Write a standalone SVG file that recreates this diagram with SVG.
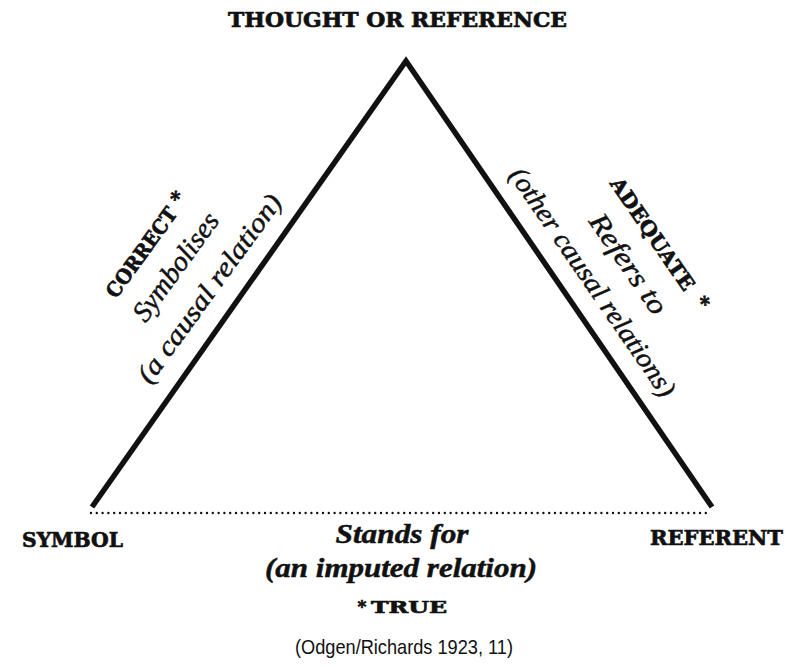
<svg xmlns="http://www.w3.org/2000/svg" width="800" height="667" viewBox="0 0 800 667">
<style>
.caps{font-family:"DejaVu Serif","Liberation Serif",serif;font-weight:bold;fill:#111;stroke:#111;stroke-width:0.7}
.it{font-family:"Liberation Serif","DejaVu Serif",serif;font-style:italic;fill:#111;stroke:#111;stroke-width:0.5}
.cap{font-family:"Liberation Sans",Arial,sans-serif;fill:#111}
.edge{fill:none;stroke:#111;stroke-width:5.5;stroke-linejoin:miter;stroke-linecap:butt}
.dots{fill:none;stroke:#111;stroke-width:2.4;stroke-dasharray:0 5.8;stroke-linecap:round}
</style>
<rect width="800" height="667" fill="#fff"/>
<g id="connectors">
<polyline class="edge" points="92,507 406,61 712,507"/>
<line class="dots" x1="91" y1="513" x2="710" y2="513"/>
</g>
<g id="thought">
<text class="caps" x="397.5" y="27" font-size="20" text-anchor="middle" textLength="339" lengthAdjust="spacingAndGlyphs">THOUGHT OR REFERENCE</text>
</g>
<g id="symbol">
<text class="caps" x="22" y="547" font-size="21" textLength="101" lengthAdjust="spacingAndGlyphs">SYMBOL</text>
</g>
<g id="referent">
<text class="caps" x="650" y="545" font-size="21" textLength="133" lengthAdjust="spacingAndGlyphs">REFERENT</text>
</g>
<g id="left-label">
<text class="caps" transform="translate(141.5,252.5) rotate(-54)" y="7" font-size="20" text-anchor="middle" textLength="106" lengthAdjust="spacingAndGlyphs">CORRECT</text>
<text class="caps" transform="translate(177,197) rotate(-54)" y="8" font-size="20" text-anchor="middle">*</text>
<text class="it" transform="translate(176.5,267.5) rotate(-54)" y="8" font-size="28" text-anchor="middle" textLength="127" lengthAdjust="spacingAndGlyphs">Symbolises</text>
<text class="it" transform="translate(210,289) rotate(-54)" y="8" font-size="27" text-anchor="middle" textLength="226" lengthAdjust="spacingAndGlyphs">(a causal relation)</text>
</g>
<g id="right-label">
<text class="caps" transform="translate(652.5,234) rotate(55.5)" y="7" font-size="20" text-anchor="middle" textLength="132" lengthAdjust="spacingAndGlyphs">ADEQUATE</text>
<text class="caps" transform="translate(703,302) rotate(55.5)" y="8" font-size="20" text-anchor="middle">*</text>
<text class="it" transform="translate(627.5,264.5) rotate(55.5)" y="8" font-size="28" text-anchor="middle" textLength="116" lengthAdjust="spacingAndGlyphs">Refers to</text>
<text class="it" transform="translate(592,282.5) rotate(55.5)" y="8" font-size="27" text-anchor="middle" textLength="272" lengthAdjust="spacingAndGlyphs">(other causal relations)</text>
</g>
<g id="bottom-label">
<text class="it" x="402" y="543" font-size="28" font-weight="bold" text-anchor="middle" textLength="133" lengthAdjust="spacingAndGlyphs">Stands for</text>
<text class="it" x="401" y="577" font-size="28" font-weight="bold" text-anchor="middle" textLength="272" lengthAdjust="spacingAndGlyphs">(an imputed relation)</text>
<text class="caps" x="362" y="612" font-size="17" text-anchor="middle">*</text>
<text class="caps" x="371" y="613" font-size="17" textLength="76" lengthAdjust="spacingAndGlyphs">TRUE</text>
</g>
<g id="caption">
<text class="cap" x="404" y="654" font-size="21" text-anchor="middle" textLength="218" lengthAdjust="spacingAndGlyphs">(Odgen/Richards 1923, 11)</text>
</g>
</svg>
